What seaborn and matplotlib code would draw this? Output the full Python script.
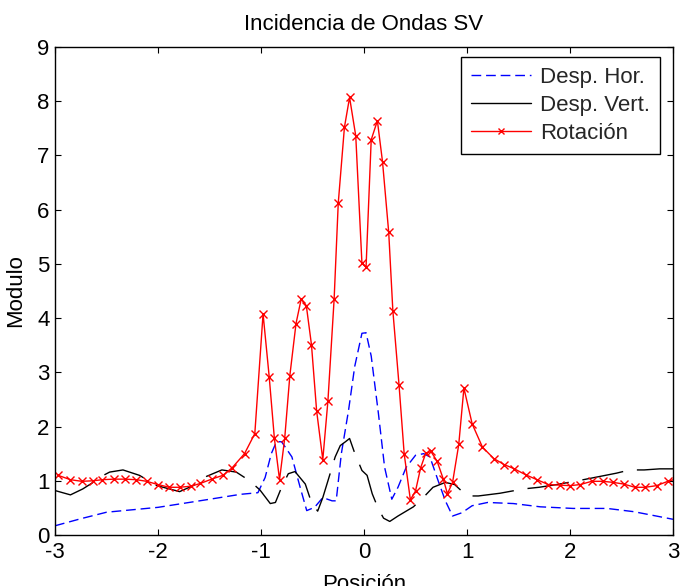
import matplotlib
matplotlib.use("Agg")
import matplotlib.pyplot as plt
from matplotlib.lines import Line2D
import seaborn as sns
import pandas as pd

title = "Incidencia de Ondas SV"
xlabel = "Posición"
ylabel = "Modulo"
labels = ["Desp. Hor.", "Desp. Vert.", "Rotación"]
xticks = [-3, -2, -1, 0, 1, 2, 3]
yticks = [0, 1, 2, 3, 4, 5, 6, 7, 8, 9]

hor_x = [-3.0, -2.75, -2.5, -2.0, -1.53, -1.2, -1.03, -0.96, -0.90, -0.85,
         -0.80, -0.70, -0.62, -0.556, -0.48, -0.40, -0.31, -0.27, -0.22, -0.15,
         -0.09, -0.02, 0.02, 0.07, 0.14, 0.20, 0.27, 0.33, 0.41, 0.50,
         0.58, 0.64, 0.72, 0.79, 0.86, 0.95, 1.05, 1.20, 1.45, 1.71,
         2.03, 2.36, 2.62, 3.0]
hor_y = [0.17, 0.30, 0.42, 0.51, 0.65, 0.75, 0.78, 1.06, 1.50, 1.72,
         1.72, 1.44, 0.88, 0.45, 0.51, 0.69, 0.63, 0.63, 1.50, 2.30,
         3.11, 3.72, 3.73, 3.30, 2.24, 1.25, 0.66, 0.88, 1.25, 1.47,
         1.50, 1.44, 1.00, 0.63, 0.35, 0.41, 0.54, 0.60, 0.58, 0.52,
         0.49, 0.49, 0.43, 0.29]

ver_x = [-3.0, -2.85, -2.73, -2.63, -2.55, -2.47, -2.34, -2.18, -2.01, -1.79,
         -1.66, -1.53, -1.38, -1.24, -1.11, -1.01, -0.91, -0.86, -0.80, -0.735,
         -0.67, -0.57, -0.51, -0.45, -0.40, -0.35, -0.28, -0.23, -0.18, -0.14,
         -0.09, -0.02, 0.03, 0.08, 0.14, 0.19, 0.25, 0.33, 0.48, 0.59,
         0.67, 0.79, 0.88, 0.96, 1.02, 1.11, 1.32, 1.55, 1.70, 1.87,
         2.13, 2.29, 2.45, 2.58, 2.72, 2.87, 3.0]
ver_y = [0.82, 0.74, 0.85, 0.97, 1.08, 1.16, 1.20, 1.10, 0.91, 0.80,
         0.91, 1.08, 1.20, 1.16, 1.00, 0.83, 0.58, 0.60, 0.88, 1.13,
         1.17, 0.94, 0.60, 0.44, 0.69, 1.00, 1.44, 1.65, 1.72, 1.78,
         1.51, 1.19, 1.10, 0.76, 0.48, 0.31, 0.25, 0.35, 0.52, 0.72,
         0.88, 0.97, 0.93, 0.79, 0.72, 0.72, 0.77, 0.85, 0.88, 0.93,
         1.02, 1.08, 1.14, 1.20, 1.20, 1.22, 1.22]

rot_x = [-2.97, -2.85, -2.74, -2.63, -2.54, -2.43, -2.32, -2.21, -2.11, -2.00,
         -1.89, -1.79, -1.68, -1.59, -1.48, -1.37, -1.28, -1.16, -1.06, -0.98,
         -0.92, -0.87, -0.82, -0.77, -0.72, -0.66, -0.61, -0.56, -0.51, -0.46,
         -0.40, -0.35, -0.29, -0.25, -0.19, -0.14, -0.08, -0.02, 0.02, 0.07,
         0.13, 0.18, 0.24, 0.28, 0.34, 0.39, 0.45, 0.50, 0.55, 0.60,
         0.65, 0.71, 0.77, 0.81, 0.86, 0.92, 0.97, 1.05, 1.15, 1.26,
         1.36, 1.46, 1.57, 1.68, 1.79, 1.90, 2.00, 2.10, 2.21, 2.32,
         2.42, 2.52, 2.63, 2.73, 2.84, 2.95, 3.06]
rot_y = [1.10, 1.02, 0.99, 1.00, 1.02, 1.03, 1.03, 1.02, 0.99, 0.93,
         0.88, 0.88, 0.90, 0.95, 1.03, 1.10, 1.24, 1.50, 1.87, 4.08,
         2.91, 1.78, 1.02, 1.78, 2.94, 3.90, 4.35, 4.23, 3.51, 2.29,
         1.39, 2.48, 4.35, 6.12, 7.52, 8.07, 7.36, 5.01, 4.94, 7.29,
         7.64, 6.88, 5.58, 4.14, 2.77, 1.50, 0.65, 0.81, 1.24, 1.51,
         1.54, 1.36, 1.03, 0.76, 0.97, 1.67, 2.71, 2.05, 1.62, 1.41,
         1.30, 1.22, 1.11, 1.02, 0.93, 0.92, 0.91, 0.93, 0.99, 0.99,
         0.97, 0.94, 0.88, 0.88, 0.91, 0.99, 1.05]

sns.set_theme(style="white")
plt.rcParams["font.family"] = ["Liberation Sans", "DejaVu Sans"]
FS = 16

fig = plt.figure(figsize=(6.96, 5.86), dpi=100)
ax = fig.add_axes([55 / 696, 51 / 586, 618 / 696, 488 / 586])

df_h = pd.DataFrame({"x": hor_x, "y": hor_y})
df_v = pd.DataFrame({"x": ver_x, "y": ver_y})
df_r = pd.DataFrame({"x": rot_x, "y": rot_y})

sns.lineplot(data=df_h, x="x", y="y", ax=ax, sort=False, estimator=None,
             color="#0000ff", lw=1.0)
sns.lineplot(data=df_v, x="x", y="y", ax=ax, sort=False, estimator=None,
             color="black", lw=1.0)
sns.lineplot(data=df_r, x="x", y="y", ax=ax, sort=False, estimator=None,
             color="#ff0000", lw=1.0, marker="x", markersize=5,
             markeredgewidth=1.0, markeredgecolor="#ff0000")

l_h, l_v, l_r = ax.lines[0], ax.lines[1], ax.lines[2]
l_h.set_linestyle((0, (7, 3.5)))
l_v.set_linestyle((0, (30, 10)))
l_r.set_linestyle("-")
l_r.set_marker("x")
l_r.set_markeredgecolor("#ff0000")
l_r.set_markersize(5.5)
l_r.set_markeredgewidth(1.0)

ax.set_xlim(-3, 3)
ax.set_ylim(0, 9)
ax.set_xticks(xticks)
ax.set_yticks(yticks)
ax.set_xticklabels([str(t) for t in xticks])
ax.set_yticklabels([str(t) for t in yticks])
ax.tick_params(direction="in", length=4.5, width=0.8, colors="black",
               labelsize=FS, top=True, right=True, bottom=True, left=True)
ax.tick_params(axis="x", pad=5)
ax.tick_params(axis="y", pad=4)
for s in ax.spines.values():
    s.set_visible(True)
    s.set_color("black")
    s.set_linewidth(1.0)

ax.set_title(title, fontsize=FS, pad=12, color="black")
ax.set_xlabel(xlabel, fontsize=FS, color="black")
ax.set_ylabel(ylabel, fontsize=FS, color="black")
ax.xaxis.set_label_coords(0.5, -0.079)
ax.yaxis.set_label_coords(-0.046, 0.5)

handles = [
    Line2D([], [], color="#0000ff", lw=1.0, linestyle=(0, (7, 3.5))),
    Line2D([], [], color="black", lw=1.0),
    Line2D([], [], color="#ff0000", lw=1.0, marker="x", markersize=5,
           markeredgecolor="#ff0000"),
]
leg = ax.legend(handles, labels, loc="upper right", bbox_to_anchor=(0.979, 0.9795),
                borderaxespad=0, fontsize=FS, frameon=True, fancybox=False,
                framealpha=1, edgecolor="black", handlelength=2.7,
                handletextpad=0.4, labelspacing=0.32, borderpad=0.45)
leg.get_frame().set_linewidth(1.0)

fig.savefig("out.png", dpi=100)
